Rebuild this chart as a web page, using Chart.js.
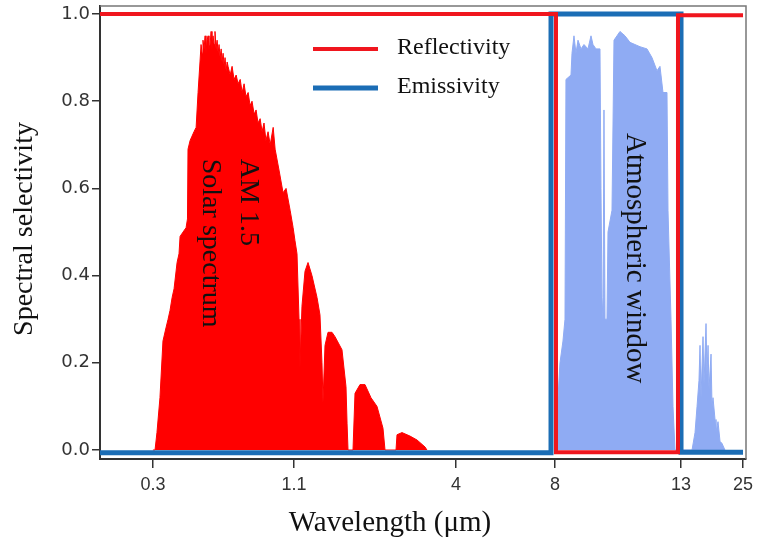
<!DOCTYPE html>
<html>
<head>
<meta charset="utf-8">
<script src="https://cdn.jsdelivr.net/npm/chart.js@4.4.1/dist/chart.umd.min.js"></script>
<style>
  body { margin: 0; background: #fff; }
  canvas { display: block; }
</style>
</head>
<body>
<canvas id="SelectivityChart" width="758" height="540"></canvas>
<script>
// tick labels
var xTicks = [0.3, 1.1, 4, 8, 13, 25];
var yTicks = [0, 0.2, 0.4, 0.6, 0.8, 1.0];

// step profiles of the cooler
var reflWl = [0, 8.04, 8.04, 12.88, 12.88, 25.0];
var reflVal = [1.0, 1.0, -0.005, -0.005, 0.997, 0.997];
var emisWl = [0, 7.84, 7.84, 13.0, 13.0, 25.0];
var emisVal = [-0.006, -0.006, 1.0, 1.0, -0.005, -0.005];

// AM 1.5 solar spectrum (normalised)
var solarWl = [0.30, 0.312, 0.323, 0.340, 0.357, 0.374, 0.386, 0.397, 0.409, 0.420,
  0.437, 0.448, 0.454, 0.471, 0.488, 0.496, 0.499, 0.511, 0.522, 0.533,
  0.545, 0.556, 0.567, 0.573, 0.579, 0.584, 0.590, 0.596, 0.601, 0.607,
  0.613, 0.618, 0.624, 0.630, 0.635, 0.641, 0.647, 0.652, 0.658, 0.664,
  0.670, 0.675, 0.681, 0.687, 0.692, 0.698, 0.704, 0.709, 0.715, 0.721,
  0.726, 0.738, 0.749, 0.760, 0.772, 0.783, 0.795, 0.806, 0.817, 0.828,
  0.840, 0.851, 0.862, 0.874, 0.885, 0.896, 0.908, 0.919, 0.930, 0.941,
  0.953, 0.965, 0.982, 0.993,
  1.016, 1.038, 1.055, 1.078, 1.095, 1.118, 1.154, 1.19, 1.207, 1.243,
  1.297, 1.351, 1.422, 1.512, 1.565, 1.601, 1.619, 1.655, 1.709, 1.78,
  1.834, 1.959, 2.031, 2.05, 2.067, 2.156, 2.192, 2.281, 2.371, 2.478,
  2.586, 2.693, 2.729, 2.926, 2.944, 3.033, 3.176, 3.302, 3.445, 3.48];
var solarVal = [0, 0, 0.04, 0.12, 0.25, 0.28, 0.30, 0.32, 0.35, 0.37,
  0.43, 0.45, 0.49, 0.50, 0.51, 0.53, 0.69, 0.71, 0.72, 0.73,
  0.74, 0.82, 0.89, 0.93, 0.91, 0.94, 0.92, 0.95, 0.91, 0.94,
  0.95, 0.92, 0.93, 0.96, 0.92, 0.95, 0.93, 0.96, 0.92, 0.94,
  0.91, 0.93, 0.90, 0.92, 0.89, 0.91, 0.88, 0.90, 0.87, 0.89,
  0.88, 0.86, 0.88, 0.85, 0.86, 0.84, 0.85, 0.82, 0.84, 0.81,
  0.82, 0.79, 0.80, 0.77, 0.78, 0.75, 0.76, 0.73, 0.75, 0.71,
  0.73, 0.70, 0.74, 0.69,
  0.64, 0.59, 0.60, 0.55, 0.51, 0.48, 0.45, 0.30, 0.19, 0.33,
  0.41, 0.43, 0.40, 0.35, 0.31, 0.20, 0.11, 0.24, 0.27, 0.27,
  0.26, 0.23, 0.145, 0.06, 0, 0, 0.13, 0.15, 0.15, 0.12,
  0.10, 0.05, 0, 0, 0.035, 0.04, 0.032, 0.023, 0.007, 0];

// atmospheric transmittance
var atmWl = [8.079, 8.119, 8.198, 8.317, 8.397, 8.436, 8.635, 8.675, 8.754, 8.833,
  8.913, 9.032, 9.151, 9.309, 9.429, 9.508, 9.627, 9.786, 9.825, 9.865,
  9.905, 9.944, 9.984, 10.024, 10.063, 10.103, 10.262, 10.341, 10.460, 10.579,
  10.778, 10.976, 11.174, 11.373, 11.651, 11.849, 12.047, 12.166, 12.285, 12.444,
  12.484, 12.603, 12.682, 12.762,
  15.13, 15.71, 16.10, 16.48, 16.68, 16.87, 17.26, 17.45, 17.84, 18.03,
  18.23, 18.42, 18.81, 19.0, 19.19, 19.58, 19.77, 20.16, 20.55, 20.94, 21.5];
var atmVal = [0, 0.12, 0.20, 0.25, 0.30, 0.85, 0.86, 0.91, 0.95, 0.91,
  0.94, 0.92, 0.93, 0.92, 0.95, 0.93, 0.92, 0.92, 0.60, 0.35,
  0.30, 0.78, 0.30, 0.30, 0.30, 0.50, 0.55, 0.94, 0.95, 0.96,
  0.95, 0.935, 0.93, 0.925, 0.92, 0.90, 0.87, 0.88, 0.82, 0.82,
  0.55, 0.30, 0.10, 0,
  0, 0.04, 0.10, 0.16, 0.24, 0.12, 0.26, 0.15, 0.29, 0.17,
  0.24, 0.14, 0.22, 0.10, 0.12, 0.07, 0.04, 0.065, 0.02, 0.015, 0];

// the wavelength axis is cut in linear pieces
var xBreaks = [0, 1.1, 4, 8, 13, 25];
var xBreakPos = [0, 0.3003, 0.5511, 0.7043, 0.8994, 0.9954];

function warp(w) {
  var n = xBreaks.length;
  for (var i = 1; i < n; i++) {
    if (w <= xBreaks[i] || i === n - 1) {
      var t = (w - xBreaks[i - 1]) / (xBreaks[i] - xBreaks[i - 1]);
      return xBreakPos[i - 1] + t * (xBreakPos[i] - xBreakPos[i - 1]);
    }
  }
}
function unwarp(d) {
  var n = xBreakPos.length;
  for (var i = 1; i < n; i++) {
    if (d <= xBreakPos[i] || i === n - 1) {
      var t = (d - xBreakPos[i - 1]) / (xBreakPos[i] - xBreakPos[i - 1]);
      return xBreaks[i - 1] + t * (xBreaks[i] - xBreaks[i - 1]);
    }
  }
}

class BrokenScale extends Chart.LinearScale {
  getPixelForValue(value) {
    if (value === null || value === undefined) return NaN;
    return this.getPixelForDecimal(warp(value));
  }
  getValueForPixel(pixel) {
    return unwarp(this.getDecimalForPixel(pixel));
  }
}
BrokenScale.id = 'broken';
BrokenScale.defaults = Chart.LinearScale.defaults;
Chart.register(BrokenScale);

function toPoints(xs, ys) {
  return xs.map(function (x, i) { return { x: x, y: ys[i] }; });
}

var serif = 'Liberation Serif, Times New Roman, serif';

// top/right frame, titles, notes and the legend
var decoPlugin = {
  id: 'deco',
  beforeDatasetsDraw: function (chart) {
    var a = chart.chartArea, ctx = chart.ctx;
    ctx.save();
    ctx.strokeStyle = '#777';
    ctx.lineWidth = 1.5;
    ctx.beginPath();
    ctx.moveTo(a.left, a.top);
    ctx.lineTo(a.right, a.top);
    ctx.lineTo(a.right, a.bottom);
    ctx.stroke();
    ctx.restore();
  },
  afterDraw: function (chart) {
    var ctx = chart.ctx;
    var x = chart.scales.x, y = chart.scales.y;
    ctx.save();
    ctx.fillStyle = '#111';

    // axis titles
    ctx.font = '29px ' + serif;
    ctx.textAlign = 'center';
    ctx.textBaseline = 'alphabetic';
    ctx.fillText('Wavelength (\u03bcm)', 390, 531);
    ctx.save();
    ctx.translate(25, 229);
    ctx.rotate(-Math.PI / 2);
    ctx.textBaseline = 'middle';
    ctx.font = '28px ' + serif;
    ctx.fillText('Spectral selectivity', 0, 0);
    ctx.restore();

    // notes inside the plot
    ctx.font = '28px ' + serif;
    ctx.textAlign = 'left';
    ctx.save();
    ctx.translate(241, y.getPixelForValue(0.668));
    ctx.rotate(Math.PI / 2);
    ctx.fillText('AM 1.5', 0, 0);
    ctx.fillText('Solar spectrum', 0, 38);
    ctx.restore();

    ctx.font = '29px ' + serif;
    ctx.textAlign = 'center';
    ctx.save();
    ctx.translate(x.getPixelForValue(11.0) - 4, y.getPixelForValue(0.44));
    ctx.rotate(Math.PI / 2);
    ctx.fillText('Atmospheric window', 0, 0);
    ctx.restore();

    // legend for the two line series
    ctx.font = '24px ' + serif;
    ctx.textAlign = 'left';
    ctx.textBaseline = 'middle';
    var rows = [49, 88];
    chart.data.datasets.slice(0, 2).forEach(function (ds, i) {
      ctx.strokeStyle = ds.borderColor;
      ctx.lineWidth = ds.borderWidth;
      ctx.beginPath();
      ctx.moveTo(313, rows[i]);
      ctx.lineTo(378, rows[i]);
      ctx.stroke();
      ctx.fillStyle = '#111';
      ctx.fillText(ds.label, 397, rows[i] - 1);
    });
    ctx.restore();
  }
};

var config = {
  type: 'line',
  data: {
    datasets: [{
      label: 'Reflectivity',
      data: toPoints(reflWl, reflVal),
      borderColor: '#f0161e',
      borderWidth: 4,
      pointRadius: 0,
      fill: false
    }, {
      label: 'Emissivity',
      data: toPoints(emisWl, emisVal),
      borderColor: '#1b6db5',
      borderWidth: 5,
      pointRadius: 0,
      fill: false
    }, {
      label: 'AM 1.5 Solar spectrum',
      data: toPoints(solarWl, solarVal),
      borderColor: '#ff0000',
      backgroundColor: '#ff0000',
      borderWidth: 1,
      pointRadius: 0,
      fill: 'origin'
    }, {
      label: 'Atmospheric window',
      data: toPoints(atmWl, atmVal),
      borderColor: '#8fabf3',
      backgroundColor: '#8fabf3',
      borderWidth: 1,
      pointRadius: 0,
      fill: 'origin'
    }]
  },
  options: {
    responsive: false,
    animation: false,
    layout: { padding: { top: 6, right: 12, left: 0, bottom: 0 } },
    plugins: {
      legend: { display: false },
      tooltip: { enabled: false }
    },
    scales: {
      x: {
        type: 'broken',
        min: 0,
        max: 25.58,
        afterBuildTicks: function (scale) {
          scale.ticks = xTicks.map(function (v) { return { value: v }; });
        },
        afterFit: function (scale) {
          scale.height = 81;
          scale.paddingLeft = 0;
          scale.paddingRight = 0;
        },
        grid: { drawOnChartArea: false, tickLength: 9, color: '#333', lineWidth: 1.5 },
        border: { color: '#333', width: 2 },
        ticks: {
          autoSkip: false,
          maxRotation: 0,
          padding: 6,
          color: '#333',
          font: { family: 'Liberation Sans', size: 18 },
          callback: function (v) { return String(v); }
        }
      },
      y: {
        min: -0.0206,
        max: 1.0184,
        afterBuildTicks: function (scale) {
          scale.ticks = yTicks.map(function (v) { return { value: v }; });
        },
        afterFit: function (scale) {
          scale.width = 100;
          scale.paddingTop = 0;
          scale.paddingBottom = 0;
        },
        grid: { drawOnChartArea: false, tickLength: 8, color: '#333', lineWidth: 1.5 },
        border: { color: '#333', width: 2 },
        ticks: {
          padding: 2,
          color: '#333',
          font: { family: 'DejaVu Sans', size: 18 },
          callback: function (v) { return v.toFixed(1); }
        }
      }
    }
  },
  plugins: [decoPlugin]
};

var ctx = document.getElementById('SelectivityChart').getContext('2d');
window.selectivityChart = new Chart(ctx, config);
</script>
</body>
</html>
